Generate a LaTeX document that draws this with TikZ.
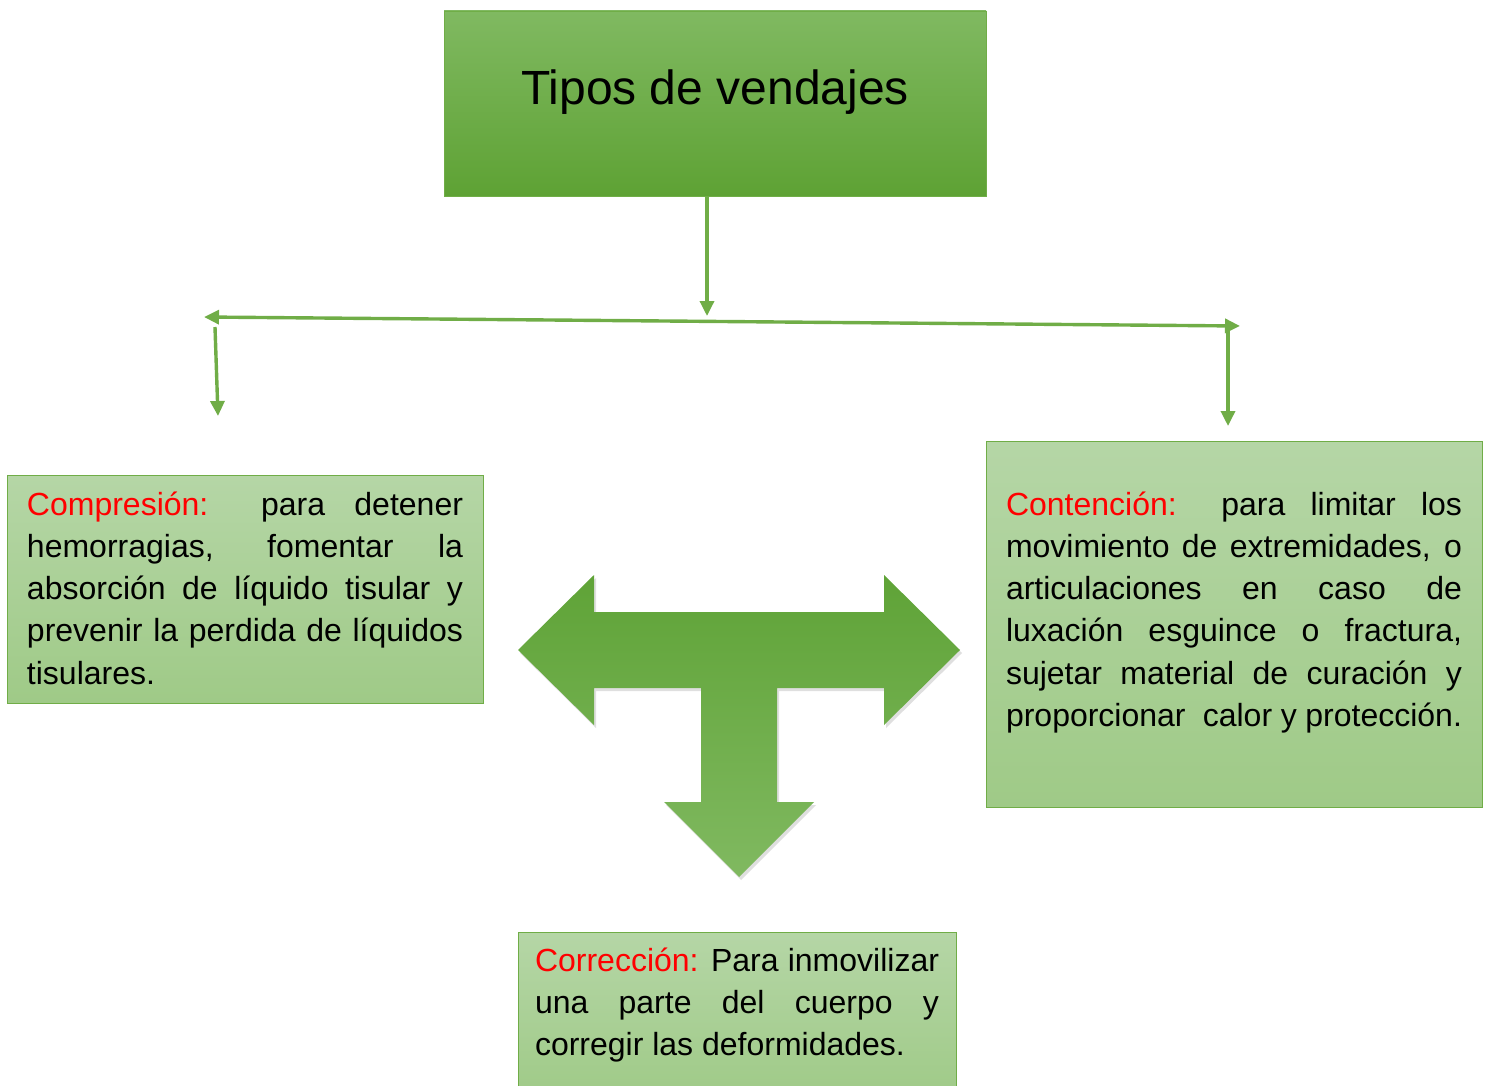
\documentclass[tikz,border=0pt]{standalone}
\usepackage{fontspec}
\setmainfont{Liberation Sans}
\usetikzlibrary{arrows.meta, shadows}
\hyphenpenalty=10000
\exhyphenpenalty=10000

\definecolor{verde}{HTML}{70AD47}
\definecolor{tituloArriba}{HTML}{80B961}
\definecolor{tituloAbajo}{HTML}{5EA234}
\definecolor{cajaArriba}{HTML}{B5D6A6}
\definecolor{cajaAbajo}{HTML}{9FCA87}
\definecolor{flechaArriba}{HTML}{5FA337}
\definecolor{flechaAbajo}{HTML}{80B960}

\begin{document}
\begin{tikzpicture}[x=1pt, y=-1pt, >={Triangle[length=15pt, width=14pt]},
		flecha/.style={draw=verde, line width=3.4pt, ->},
		titulo/.style={draw=verde, line width=.8pt, top color=tituloArriba, bottom color=tituloAbajo, inner sep=0pt, font=\fontsize{48}{58}\selectfont},
		caja/.style={draw=verde, line width=1pt, top color=cajaArriba, bottom color=cajaAbajo, inner xsep=20pt, inner ysep=0pt, align=justify, text height=0pt, font=\fontsize{32}{42.3}\selectfont},
		tipo/.style={color=red}]
		\useasboundingbox (0,0) rectangle (1485,1086);
		\clip (0,0) rectangle (1485,1086);
		
		\node[titulo, minimum width=542pt, minimum height=185pt, text height=20pt, text depth=17pt] (tipos) at (715,103.5) {Tipos de vendajes};
		
		\coordinate (cruce) at (707,316);
		\coordinate (izq) at (204,317);
		\coordinate (der) at (1240,326);
		\coordinate (salidaIzq) at (215,327);
		\coordinate (salidaDer) at (1228,327);
		\coordinate (bajaIzq) at (218,416);
		\coordinate (bajaDer) at (1228,426);
		
		\draw[flecha] (tipos.south -| cruce) -- (cruce);
		\draw[flecha, <->] (izq) -- (der);
		\draw[flecha] (salidaIzq) -- (bajaIzq);
		\draw[flecha] (salidaDer) -- (bajaDer);
		
		% flecha en T
		\shade[top color=flechaArriba, bottom color=flechaAbajo, drop shadow={opacity=.25, shadow xshift=2pt, shadow yshift=-3pt}]
			(518,650) -- (594,575) -- (594,612) -- (884,612) -- (884,575) -- (960,650) -- (884,725) -- (884,688)
			-- (777,688) -- (777,802) -- (814,802) -- (739,877) -- (664,802) -- (701,802) -- (701,688)
			-- (594,688) -- (594,725) -- cycle;
		
		\node[caja, minimum width=476pt, minimum height=228pt, text width=436pt, text depth=148pt] (compresion) at (245,589)
			{{\color{red}Compresión:} para detener\linebreak hemorragias, fomentar la\linebreak absorción de líquido tisular y\linebreak prevenir la perdida de líquidos\linebreak tisulares.};
		
		\node[caja, minimum width=496pt, minimum height=366pt, text width=456pt, text depth=218pt] (contencion) at (1234,624)
			{{\color{red}Contención:} para limitar los\linebreak movimiento de extremidades, o\linebreak articulaciones en caso de\linebreak luxación esguince o fractura,\linebreak sujetar material de curación y\linebreak proporcionar\ \ calor y protección.};
		
		\node[caja, inner xsep=17pt, minimum width=438pt, minimum height=168pt, text width=404pt, text depth=90pt] (correccion) at (737,1016)
			{{\color{red}Corrección:} Para inmovilizar\linebreak una parte del cuerpo y\linebreak corregir las deformidades.};
		
	\end{tikzpicture}
\end{document}
